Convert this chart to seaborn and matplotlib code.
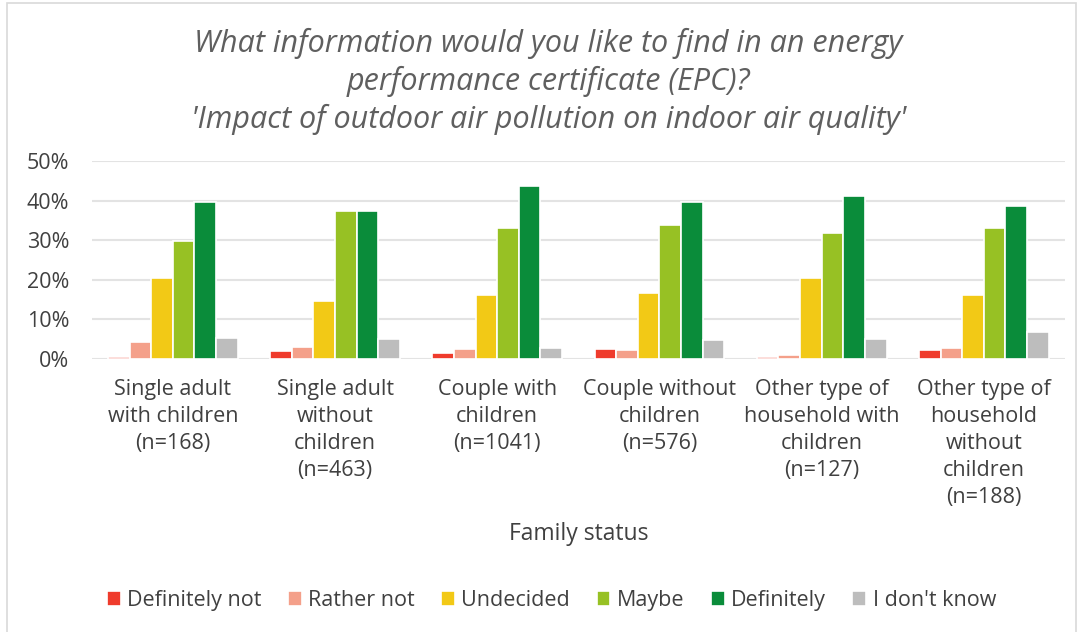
import pandas as pd
import matplotlib.pyplot as plt
import seaborn as sns
from matplotlib.patches import Rectangle
from matplotlib.ticker import PercentFormatter

# ----- EPC survey: outdoor air pollution impact, by family status -----

groups = ['Single adult\nwith children\n(n=168)',
          'Single adult\nwithout\nchildren\n(n=463)',
          'Couple with\nchildren\n(n=1041)',
          'Couple without\nchildren\n(n=576)',
          'Other type of\nhousehold with\nchildren\n(n=127)',
          'Other type of\nhousehold\nwithout\nchildren\n(n=188)']
answers = ['Definitely not', 'Rather not', 'Undecided', 'Maybe', 'Definitely', "I don't know"]
colors = ['#EF3B2C', '#F4A08A', '#F2C916', '#97C124', '#0A8C3A', '#BDBDBD']

definitely_not = [0.6, 2.1, 1.5, 2.5, 0.6, 2.3]
rather_not = [4.2, 3.1, 2.5, 2.2, 1.1, 2.7]
undecided = [20.4, 14.6, 16.1, 16.6, 20.4, 16.1]
maybe = [29.7, 37.4, 33.1, 33.9, 31.9, 33.2]
definitely = [39.7, 37.4, 43.7, 39.7, 41.1, 38.7]
dont_know = [5.3, 5.1, 2.9, 4.7, 5.0, 6.8]

series = [definitely_not, rather_not, undecided, maybe, definitely, dont_know]
rows = []
for ans, vals in zip(answers, series):
    for g, v in zip(groups, vals):
        rows.append({'Family status': g, 'Answer': ans, 'Share': v})
df = pd.DataFrame(rows)

sns.set_style('white')
plt.rcParams['font.family'] = ['Open Sans', 'DejaVu Sans']
text_col = '#404040'

fig = plt.figure(figsize=(10.79, 6.32), dpi=100)
ax = fig.add_axes([0.085, 0.432, 0.902, 0.313])

sns.barplot(data=df, x='Family status', y='Share', hue='Answer', hue_order=answers,
            palette=colors, saturation=1, width=0.8, edgecolor='white', linewidth=1.2,
            ax=ax, legend=True)

ax.set_ylim(0, 50)
ax.set_yticks(range(0, 51, 10))
ax.yaxis.set_major_formatter(PercentFormatter(decimals=0))
ax.grid(axis='y', color='#E3E3E3', linewidth=1.5)
ax.set_axisbelow(True)
for s in ax.spines.values():
    s.set_visible(False)
ax.tick_params(axis='y', labelsize=15.5, colors=text_col, pad=16, length=0)
ax.tick_params(axis='x', labelsize=15.5, colors=text_col, pad=14.5, length=0)
for lbl in ax.get_xticklabels():
    lbl.set_linespacing(1.38)
ax.set_xlabel('Family status', fontsize=16.5, color=text_col, labelpad=10)
ax.set_ylabel('')

handles, labels = ax.get_legend_handles_labels()
ax.legend_.remove()
fig.legend(handles, labels, loc='center', bbox_to_anchor=(0.511, 0.05), ncol=6, frameon=False,
           fontsize=15.5, handlelength=0.65, handleheight=0.65, handletextpad=0.3,
           columnspacing=1.22, labelcolor=text_col)

fig.text(0.508, 0.871,
         "What information would you like to find in an energy\nperformance certificate (EPC)?\n'Impact of outdoor air pollution on indoor air quality'",
         ha='center', va='center', fontsize=22, style='italic',
         color='#5F5F5F', linespacing=1.27)

fig.patches.append(Rectangle((0.0065, -0.01), 0.9905, 1.005, transform=fig.transFigure,
                             fill=False, edgecolor='#D9D9D9', linewidth=1.2))

plt.savefig('out.png', dpi=100)
